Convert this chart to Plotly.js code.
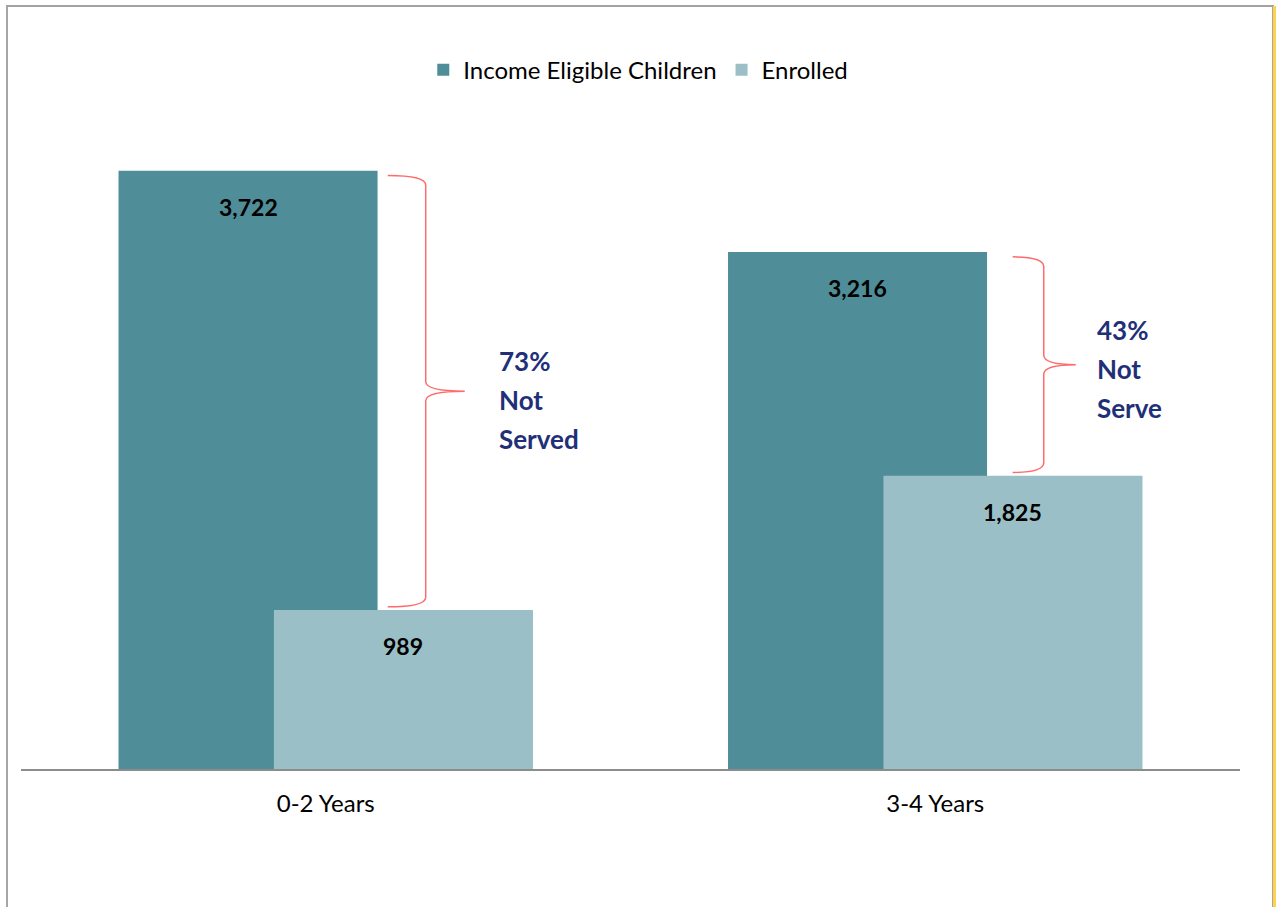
<!DOCTYPE html>
<html><head><meta charset="utf-8">
<script src="https://cdn.plot.ly/plotly-3.0.1.min.js"></script>
<style>
html,body{margin:0;padding:0;background:#fff;}
#frame{position:absolute;left:6px;top:5px;width:1264px;height:910px;border-left:2px solid #a6a6a6;border-top:2px solid #a6a2a0;border-right:2px solid #a6a6a6;}
#strip{position:absolute;left:1273px;top:6px;width:3px;height:901px;background:#ffd34d;}
#chart{position:absolute;left:0;top:0;width:1276px;height:907px;}
</style></head>
<body>
<div id="frame"></div><div id="strip"></div>
<div id="chart"></div>
<script>
var categories = ['0-2 Years', '3-4 Years'];
var eligible = [3722, 3216];
var enrolled = [989, 1825];
var seriesNames = ['Income Eligible Children', 'Enrolled'];
var notServedPct = ['73%', '43%'];
var notServedWords = [['Not', 'Served'], ['Not', 'Serve']];

var darkColor = '#4f8e98', lightColor = '#9abfc6';
var font = 'Lato, "Open Sans", sans-serif';
var barW = 0.425;

var traces = [
  {type:'bar', name:seriesNames[0], x:categories, y:eligible, offset:-0.34, width:barW,
   marker:{color:darkColor}, hoverinfo:'none'},
  {type:'bar', name:seriesNames[1], x:categories, y:enrolled, offset:-0.085, width:barW,
   marker:{color:lightColor}, hoverinfo:'none'}
];

var annotations = [];
var shapes = [];
function fmt(v){ return v.toLocaleString('en-US'); }
categories.forEach(function(c, i){
  annotations.push({x:i - 0.127, y:eligible[i], xref:'x', yref:'y', text:'<b>'+fmt(eligible[i])+'</b>',
    showarrow:false, yshift:-36, font:{family:font, size:23, color:'#000'}});
  annotations.push({x:i + 0.127, y:enrolled[i], xref:'x', yref:'y', text:'<b>'+fmt(enrolled[i])+'</b>',
    showarrow:false, yshift:-36, font:{family:font, size:23, color:'#000'}});
});

// braces
var braceGeom = [
  {xl:0.1017, xv:0.164, xt:0.228, tx:0.2805},
  {xl:1.127, xv:1.178, xt:1.2305, tx:1.2617}
];
categories.forEach(function(c, i){
  var g = braceGeom[i];
  var yt = eligible[i] - 30, yb = enrolled[i] + 20, ym = (yt + yb) / 2, r = 60;
  var p = 'M'+g.xl+','+yt+' Q'+g.xv+','+yt+' '+g.xv+','+(yt-r)+
          ' L'+g.xv+','+(ym+r)+' Q'+g.xv+','+ym+' '+g.xt+','+ym+
          ' Q'+g.xv+','+ym+' '+g.xv+','+(ym-r)+
          ' L'+g.xv+','+(yb+r)+' Q'+g.xv+','+yb+' '+g.xl+','+yb;
  shapes.push({type:'path', xref:'x', yref:'y', path:p, line:{color:'#ff6b6b', width:1.5}});
  var lines = [notServedPct[i]].concat(notServedWords[i]);
  lines.forEach(function(t, k){
    annotations.push({x:g.tx, y:ym, xref:'x', yref:'y', text:'<b>'+t+'</b>', showarrow:false,
      xanchor:'left', yanchor:'middle', yshift:(i===0?-9:-4) + (1-k)*39,
      font:{family:font, size:26, color:'#1f3079'}});
  });
});

var layout = {
  width:1276, height:907,
  margin:{l:21, r:36, t:126, b:138},
  paper_bgcolor:'rgba(0,0,0,0)', plot_bgcolor:'rgba(0,0,0,0)',
  barmode:'overlay',
  showlegend:true,
  legend:{orientation:'h', x:0.33, xanchor:'left', y:1.087, yanchor:'middle',
    font:{family:font, size:24, color:'#000'}, bgcolor:'rgba(0,0,0,0)'},
  xaxis:{type:'category', range:[-0.5, 1.5], showline:true, linecolor:'#8c8c8c', linewidth:1.5,
    ticks:'', showgrid:false, zeroline:false, tickfont:{family:font, size:24, color:'#000'}, ticklabelstandoff:13},
  yaxis:{range:[0, 4000], visible:false, showgrid:false, zeroline:false},
  annotations:annotations, shapes:shapes
};
Plotly.newPlot('chart', traces, layout, {displayModeBar:false, staticPlot:true});
</script>
</body></html>
